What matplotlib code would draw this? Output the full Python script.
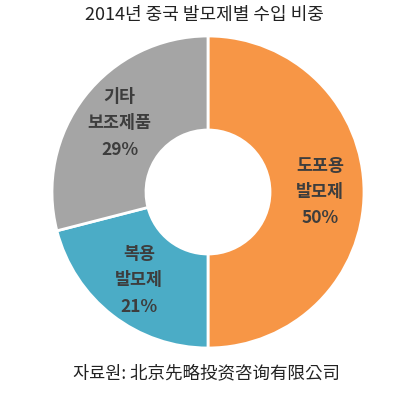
import matplotlib
matplotlib.use('Agg')
import matplotlib.pyplot as plt
import numpy as np

plt.rcParams['font.family'] = ['Noto Sans CJK KR', 'Noto Sans CJK SC', 'DejaVu Sans']

# data
labels = ['도포용\n발모제', '복용\n발모제', '기타\n보조제품']
shares = [50, 21, 29]
colors = ['#F79646', '#4BACC6', '#A5A5A5']
title = '2014년 중국 발모제별 수입 비중'
source = '자료원: 北京先略投资咨询有限公司'

W, H = 395, 396
fig = plt.figure(figsize=(W / 100, H / 100), dpi=100)
ax = fig.add_axes([0, 0, 1, 1])
ax.axis('off')

cx, cy = 208, H - 192
r_out, r_in = 156, 62

wedges, _ = ax.pie(shares, colors=colors, startangle=90, counterclock=False,
                   center=(cx, cy), radius=r_out,
                   wedgeprops=dict(width=r_out - r_in, edgecolor='white', linewidth=2))
ax.set_xlim(0, W)
ax.set_ylim(0, H)
ax.set_aspect('equal')

# labels in the middle of each ring segment
r_lab = 112
for w, lab, val in zip(wedges, labels, shares):
    ang = np.deg2rad((w.theta1 + w.theta2) / 2)
    x = cx + r_lab * np.cos(ang)
    y = cy + r_lab * np.sin(ang)
    ax.text(x, y, f'{lab}\n{val}%', ha='center', va='center', fontsize=12.5,
            color='#3d3d3d', fontweight='bold', linespacing=1.6)

fig.text(0.517, 1 - 15 / H, title, ha='center', va='center', fontsize=13, color='#222222')
fig.text(0.522, 1 - 373 / H, source, ha='center', va='center', fontsize=12.6, color='#222222')

fig.savefig('out.png', dpi=100)
